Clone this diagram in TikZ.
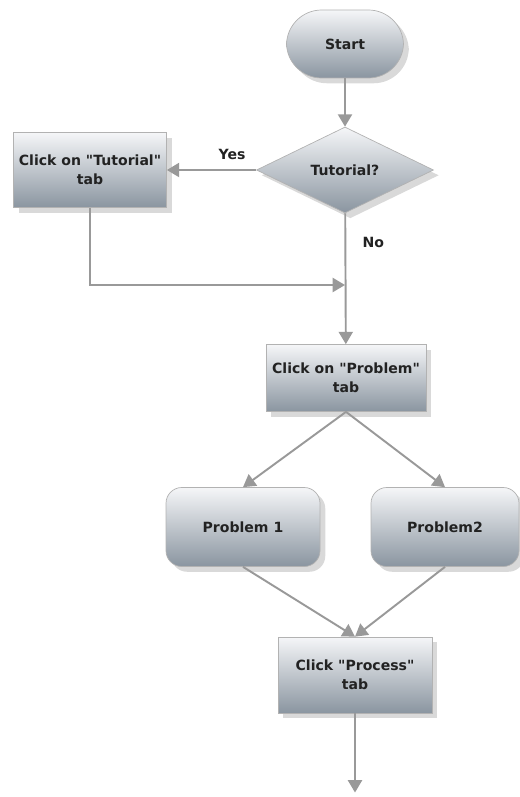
\documentclass[tikz,border=0pt]{standalone}
\usepackage{fontspec}
\setmainfont{DejaVu Sans}
\usetikzlibrary{shapes.geometric,arrows.meta,shadows}

\definecolor{boxtop}{HTML}{F5F6F8}
\definecolor{boxbot}{HTML}{8A95A0}
\definecolor{linkgray}{HTML}{999999}
\definecolor{txt}{HTML}{222222}

\tikzset{
  shape box/.style={draw=gray!60, top color=boxtop, bottom color=boxbot,
    drop shadow={opacity=0.3,shadow xshift=3pt,shadow yshift=-3pt},
    text=txt, font=\fontsize{8}{10.8}\selectfont\bfseries, align=center, inner sep=0pt},
  link/.style={draw=linkgray, line width=1.1pt, -{Triangle[length=7pt,width=8pt]}},
  label/.style={text=txt, font=\fontsize{8}{10}\selectfont\bfseries},
}

\begin{document}
\begin{tikzpicture}
    \useasboundingbox (0,0) rectangle (10.4,-15.94);

    \node[shape box, rounded corners=20pt, minimum width=2.34cm, minimum height=1.36cm] (start) at (6.9,-0.88) {Start};
    \node[shape box, diamond, minimum width=3.54cm, minimum height=1.72cm] (tutq) at (6.9,-3.4) {Tutorial?};
    \node[shape box, minimum width=3.06cm, minimum height=1.5cm] (tutbox) at (1.8,-3.4) {Click on \textquotedbl Tutorial\textquotedbl\\tab};
    \node[shape box, minimum width=3.2cm, minimum height=1.34cm] (probtab) at (6.92,-7.56) {Click on \textquotedbl Problem\textquotedbl\\tab};
    \node[shape box, rounded corners=9pt, minimum width=3.08cm, minimum height=1.58cm] (prob1) at (4.86,-10.54) {Problem 1};
    \node[shape box, rounded corners=9pt, minimum width=2.96cm, minimum height=1.58cm] (prob2) at (8.9,-10.54) {Problem2};
    \node[shape box, minimum width=3.08cm, minimum height=1.52cm] (proctab) at (7.1,-13.5) {Click \textquotedbl Process\textquotedbl\\tab};

    \coordinate (join) at (6.9,-5.7);
    \coordinate (out) at (7.1,-15.85);

    \draw[link] (start) -- (tutq);
    \draw[link] (tutq) -- node[label, pos=0.27, above=2pt] {Yes} (tutbox);
    \draw[link] (tutq) -- node[label, pos=0.22, right=6pt] {No} (probtab);
    \draw[link] (tutbox) |- (join);
    \draw[link] (probtab.south) -- (prob1.north);
    \draw[link] (probtab.south) -- (prob2.north);
    \draw[link] (prob1.south) -- (proctab.north);
    \draw[link] (prob2.south) -- (proctab.north);
    \draw[link] (proctab) -- (out);

\end{tikzpicture}
\end{document}
